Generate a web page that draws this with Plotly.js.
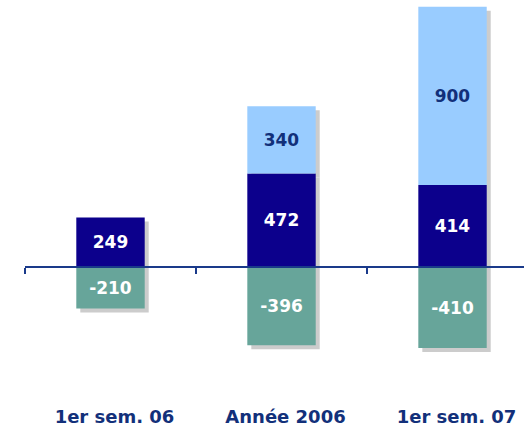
<!DOCTYPE html>
<html>
<head>
<meta charset="utf-8">
<script src="https://cdn.plot.ly/plotly-3.0.1.min.js"></script>
<style>
  html, body { margin: 0; padding: 0; background: #fff; }
  #chart { width: 524px; height: 430px; }
</style>
</head>
<body>
<div id="chart"></div>
<script>
'use strict'
// chart data
const categories = ['1er sem. 06', 'Année 2006', '1er sem. 07'];
const darkVals = [249, 472, 414];
const lightVals = [null, 340, 900];
const negVals = [-210, -396, -410];

const navy = '#0c008c';
const light = '#99ccff';
const teal = '#67a59a';
const shadow = '#cccccc';
const labelBlue = '#12307a';
const fontFam = '"DejaVu Sans", Arial, sans-serif';

let yRange = [-672, 1348];
let xRange = [-0.5, 2.418];
// shadow offset of about 4px, in data units
let dy = 4 * (yRange[1] - yRange[0]) / 400;
let dx = 4 * (xRange[1] - xRange[0]) / 499;

function barFont(color) {
  return {family: fontFam, size: 17, color: color, weight: 'bold'};
}

let traces = [];
// shadows first (main subplot, drawn underneath)
[darkVals, lightVals, negVals].forEach(function (vals) {
  traces.push({x: categories, y: vals, type: 'bar', width: 0.4,
    marker: {color: shadow}, hoverinfo: 'skip', showlegend: false,
    xaxis: 'x', yaxis: 'y'});
});
// real bars on overlaying axes
traces.push({x: categories, y: darkVals, type: 'bar', width: 0.4,
  marker: {color: navy}, text: darkVals.map(String), textposition: 'inside',
  insidetextanchor: 'middle', textfont: barFont('#ffffff'),
  hoverinfo: 'skip', showlegend: false, xaxis: 'x2', yaxis: 'y2'});
traces.push({x: categories, y: lightVals, type: 'bar', width: 0.4,
  marker: {color: light}, text: lightVals.map(v => v == null ? '' : String(v)),
  textposition: 'inside', insidetextanchor: 'middle', textfont: barFont(labelBlue),
  hoverinfo: 'skip', showlegend: false, xaxis: 'x2', yaxis: 'y2'});
traces.push({x: categories, y: negVals, type: 'bar', width: 0.4,
  marker: {color: teal}, text: negVals.map(String), textposition: 'inside',
  insidetextanchor: 'middle', textfont: barFont('#ffffff'),
  hoverinfo: 'skip', showlegend: false, xaxis: 'x2', yaxis: 'y2'});

let zeroPos = (0 - yRange[0]) / (yRange[1] - yRange[0]);

let layout = {
  width: 524, height: 430,
  margin: {l: 25, r: 0, t: 0, b: 30},
  paper_bgcolor: '#ffffff', plot_bgcolor: 'rgba(0,0,0,0)',
  barmode: 'relative',
  showlegend: false,
  xaxis: {type: 'category', range: [xRange[0] - dx, xRange[1] - dx],
    showline: false, showgrid: false, zeroline: false, ticks: '',
    ticklabelstandoff: 4,
    tickfont: {family: fontFam, size: 18, color: labelBlue, weight: 'bold'}},
  yaxis: {range: [yRange[0] + dy, yRange[1] + dy], visible: false},
  xaxis2: {type: 'category', range: xRange, overlaying: 'x',
    anchor: 'free', position: zeroPos, side: 'bottom',
    showline: true, linecolor: '#1a3a8a', linewidth: 2,
    ticks: 'outside', tickson: 'boundaries', ticklen: 6, tickwidth: 2, tickcolor: '#1a3a8a',
    showticklabels: false, showgrid: false, zeroline: false},
  yaxis2: {range: yRange, overlaying: 'y', visible: false}
};

Plotly.newPlot('chart', traces, layout, {staticPlot: true});
</script>
</body>
</html>
